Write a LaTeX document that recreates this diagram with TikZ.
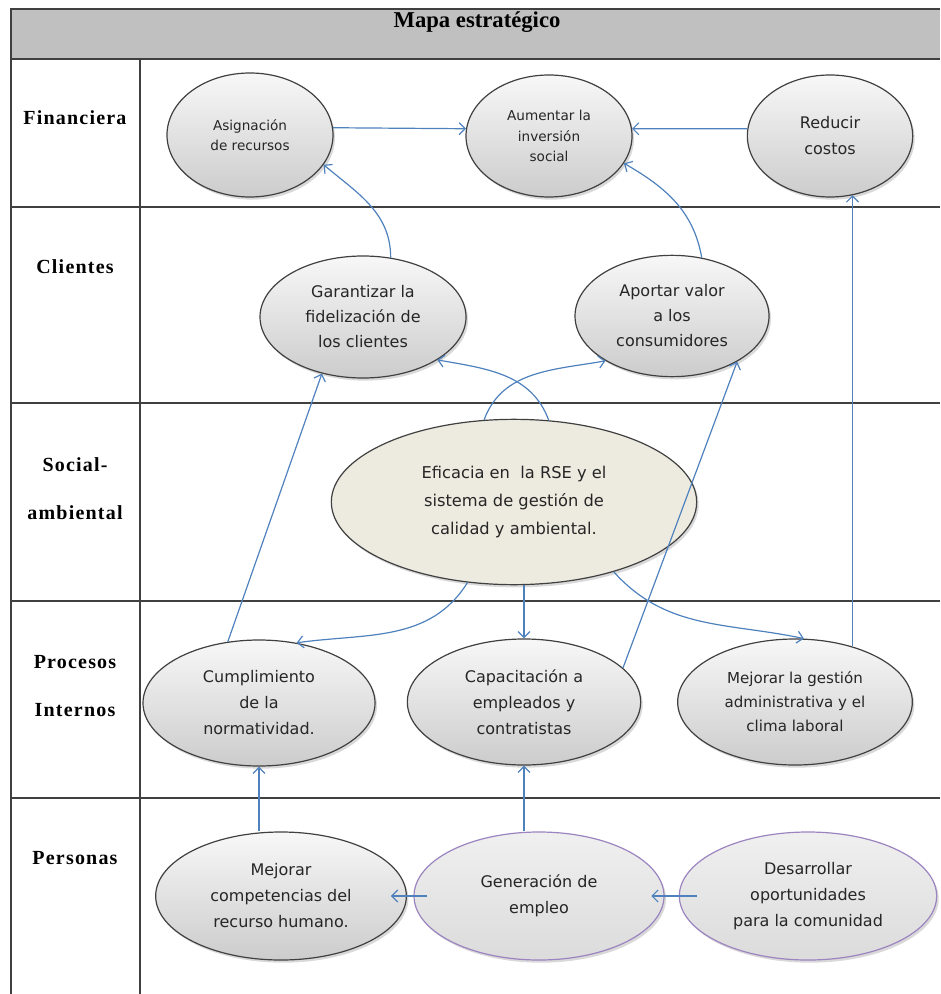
\documentclass[tikz,border=0pt]{standalone}
\usepackage{fontspec}
\setmainfont{Liberation Serif}
\newfontfamily\goalfont{DejaVu Sans}
\newfontfamily\rowfont[LetterSpace=6]{Liberation Serif}
\usetikzlibrary{shapes.geometric,shadows,arrows.meta}
\definecolor{linkblue}{HTML}{4F81BD}
\definecolor{efifill}{HTML}{EDEBE0}
\definecolor{genedge}{HTML}{9B84C0}
\definecolor{headfill}{HTML}{C0C0C0}
\definecolor{gridline}{HTML}{404040}

\begin{document}
\begin{tikzpicture}[x=0.75pt, y=0.75pt,
  goal/.style={ellipse, draw=black!75, line width=0.9pt, inner sep=0pt, align=center,
    top color=gray!6, bottom color=gray!40, text=black!85,
    drop shadow={shadow xshift=1.5pt, shadow yshift=-2pt, opacity=0.3},
    font=\goalfont\fontsize{12}{19.5}\selectfont},
  size/.style 2 args={minimum width=#1, minimum height=#2},
  smalltext/.style={font=\goalfont\fontsize{10.2}{15.5}\selectfont},
  efistyle/.style={top color=efifill, bottom color=efifill, font=\goalfont\fontsize{12.2}{21}\selectfont},
  genstyle/.style={draw=genedge, top color=gray!12, bottom color=gray!28},
  link/.style={draw=linkblue, line width=0.9pt, -{Straight Barb[length=4.5pt, width=9pt]}},
  row/.style={font=\rowfont\bfseries\fontsize{15}{36}\selectfont, align=center},
  grid/.style={draw=gridline, line width=1.1pt}]
  \useasboundingbox (0,0) rectangle (940,-994);

  % table
  \fill[headfill] (11,-9) rectangle (940,-59);
  \draw[grid] (940,-9) -- (11,-9) -- (11,-994);
  \draw[grid] (140,-59) -- (140,-994);
  \foreach \y in {59,207,403,601,798}
    \draw[grid] (11,-\y) -- (940,-\y);
  \node[font=\bfseries\fontsize{17}{20}\selectfont] (map) at (477,-22) {Mapa estratégico};
  \node[row] (fin) at (75,-118) {Financiera};
  \node[row] (cli) at (75,-267) {Clientes};
  \node[row] (soc) at (75,-489) {Social-\\ambiental};
  \node[row] (pro) at (75,-686) {Procesos\\Internos};
  \node[row] (per) at (75,-858) {Personas};

  % objetivos
  \node[goal, smalltext, size={124.5pt}{93pt}] (asig) at (250,-135) {Asignación\\de recursos};
  \node[goal, smalltext, size={124.5pt}{91.5pt}] (aum) at (549,-136) {Aumentar la\\inversión\\social};
  \node[goal, size={124pt}{91.5pt}] (red) at (830,-136) {Reducir\\costos};
  \node[goal, font=\goalfont\fontsize{12}{18.75}\selectfont, size={154.5pt}{91.5pt}] (gar) at (363,-317) {Garantizar la\\fidelización de\\los clientes};
  \node[goal, font=\goalfont\fontsize{12}{18.75}\selectfont, size={145.5pt}{91pt}] (apo) at (672,-316) {Aportar valor\\a los\\consumidores};
  \node[goal, efistyle, size={274pt}{124pt}] (efi) at (514,-502) {Eficacia en~ la RSE y el\\sistema de gestión de\\calidad y ambiental.};
  \node[goal, size={174pt}{94.5pt}] (cum) at (259,-703) {Cumplimiento\\de la\\normatividad.};
  \node[goal, size={175pt}{94.5pt}] (cap) at (524,-702) {Capacitación a\\empleados y\\contratistas};
  \node[goal, font=\goalfont\fontsize{11.3}{18}\selectfont, size={176pt}{94.5pt}] (mej) at (795,-702) {Mejorar la gestión\\administrativa y el\\clima laboral};
  \node[goal, size={188pt}{96pt}] (comp) at (281,-896) {Mejorar\\competencias del\\recurso humano.};
  \node[goal, genstyle, size={187.5pt}{96pt}] (gen) at (539,-896) {Generación de\\empleo};
  \node[goal, genstyle, size={193pt}{96pt}] (des) at (808,-896) {Desarrollar\\oportunidades\\para la comunidad};

  % relaciones
  \draw[link] (asig.5) -- (aum.175);
  \draw[link] (red.175) -- (aum.5);
  \draw[link] (gar.65) to[out=90, in=-40] (asig.-22);
  \draw[link] (apo.63) to[out=100, in=-30] (aum.-20);
  \draw[link] (efi.110) to[out=70, in=190] (apo.214);
  \draw[link] (efi.67) to[out=110, in=-10] (gar.-30);
  \draw[link] (cum.117) -- (gar.-126);
  \draw[link] (cap.19) -- (apo.-35);
  \draw[link] (mej.44) -- (mej.44 |- red.-69);
  \draw[link] (efi.240) to[out=-122, in=8] (cum.58);
  \draw[link] (efi.south -| cap.north) -- (cap.north);
  \draw[link] (efi.-35) to[out=-48, in=168] (mej.82);
  \draw[link] (cum.south |- comp.north) -- (cum.south);
  \draw[link] (cap.south |- gen.north) -- (cap.south);
  \draw[link] ([xshift=10.5pt]gen.west) -- ([xshift=-12pt]comp.east);
  \draw[link] ([xshift=13.5pt]des.west) -- ([xshift=-10pt]gen.east);
\end{tikzpicture}
\end{document}
